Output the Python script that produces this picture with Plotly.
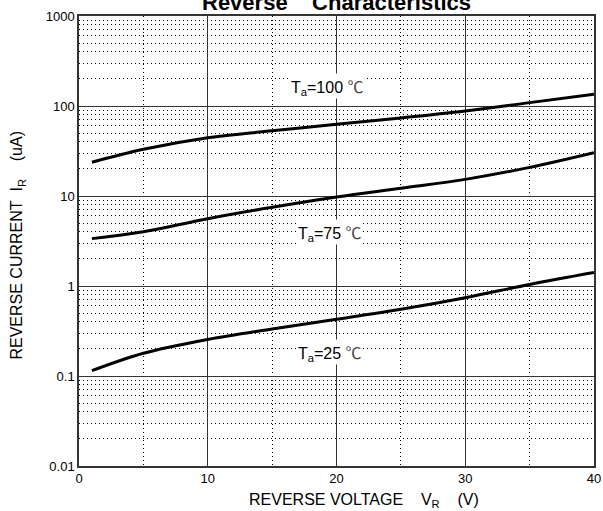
import math
import plotly.graph_objects as go

# Data
vr = [1, 5, 10, 15, 20, 25, 30, 35, 40]
ir_100 = [23.7, 33, 44.4, 53, 62.6, 73.6, 88, 109, 135]
ir_75 = [3.36, 4.0, 5.6, 7.49, 9.75, 12.2, 15.3, 20.8, 30.3]
ir_25 = [0.1146, 0.179, 0.255, 0.333, 0.426, 0.551, 0.741, 1.04, 1.41]

series_names = ["100", "75", "25"]
label_x = [19.3, 19.5, 19.5]
label_y = [165, 4.0, 0.185]

x_ticks = [0, 10, 20, 30, 40]
x_minor = [5, 15, 25, 35]
y_ticks = [0.01, 0.1, 1, 10, 100, 1000]
y_ticktext = ["0.01", "0.1", "1", "10", "100", "1000"]
y_minor = [m * d for d in [0.01, 0.1, 1, 10, 100] for m in range(2, 10)]

FONT = "Liberation Sans, Arial, sans-serif"
NB = "\u00a0"
DEG = "<span style='font-family:Noto Sans CJK SC;color:#444'>\u2103</span>"

fig = go.Figure()
for ys in [ir_100, ir_75, ir_25]:
    fig.add_trace(go.Scatter(x=vr, y=ys, mode="lines",
                             line=dict(color="black", width=3, shape="spline", smoothing=1.0),
                             showlegend=False, hoverinfo="skip"))

for name, lx, ly in zip(series_names, label_x, label_y):
    fig.add_annotation(x=lx, y=math.log10(ly), yref="y", xref="x",
                       text="T<sub>a</sub>=" + name + NB + DEG, showarrow=False,
                       font=dict(family=FONT, size=16, color="black"),
                       bgcolor="white", borderpad=0)

axis_common = dict(showgrid=True, gridcolor="#333333", gridwidth=1,
                   showline=True, linecolor="#333333", linewidth=1.5, mirror=True,
                   ticks="", zeroline=False, automargin=False,
                   tickfont=dict(family=FONT, size=13, color="black"))
fig.update_xaxes(range=[0, 40], tickmode="array", tickvals=x_ticks,
                 minor=dict(tickmode="array", tickvals=x_minor, showgrid=True,
                            gridcolor="black", gridwidth=1, griddash="1px,3px", ticks=""),
                 **axis_common)
fig.update_yaxes(type="log", range=[-2, 3], tickmode="array", tickvals=y_ticks, ticktext=y_ticktext,
                 minor=dict(tickmode="array", tickvals=y_minor, showgrid=True,
                            gridcolor="black", gridwidth=1, griddash="1px,3px", ticks=""),
                 **axis_common)

fig.add_annotation(x=0.5, y=1.0, xref="paper", yref="paper", yshift=14,
                   text="<b>Reverse" + NB * 4 + "Characteristics</b>", showarrow=False,
                   font=dict(family=FONT, size=22, color="black"), yanchor="middle")
fig.add_annotation(x=0.326, y=0, xref="paper", yref="paper", yshift=-34,
                   text="REVERSE VOLTAGE" + NB * 4 + "V<sub>R</sub>" + NB * 4 + "(V)", showarrow=False,
                   font=dict(family=FONT, size=16, color="black"), yanchor="middle", xanchor="left")
fig.add_annotation(x=0, y=0.491, xref="paper", yref="paper", xshift=-61.5,
                   text="REVERSE CURRENT" + NB * 2 + "I<sub>R</sub>" + NB * 4 + "(uA)", showarrow=False,
                   textangle=-90,
                   font=dict(family=FONT, size=16, color="black"), xanchor="center", yanchor="middle")

fig.update_layout(width=603, height=511, autosize=False,
                  margin=dict(l=79, r=9, t=16, b=45),
                  paper_bgcolor="white", plot_bgcolor="white")

fig.write_html("out.html", config={"displayModeBar": False},
               post_script="document.body.style.margin='0';document.body.style.overflow='hidden';")
